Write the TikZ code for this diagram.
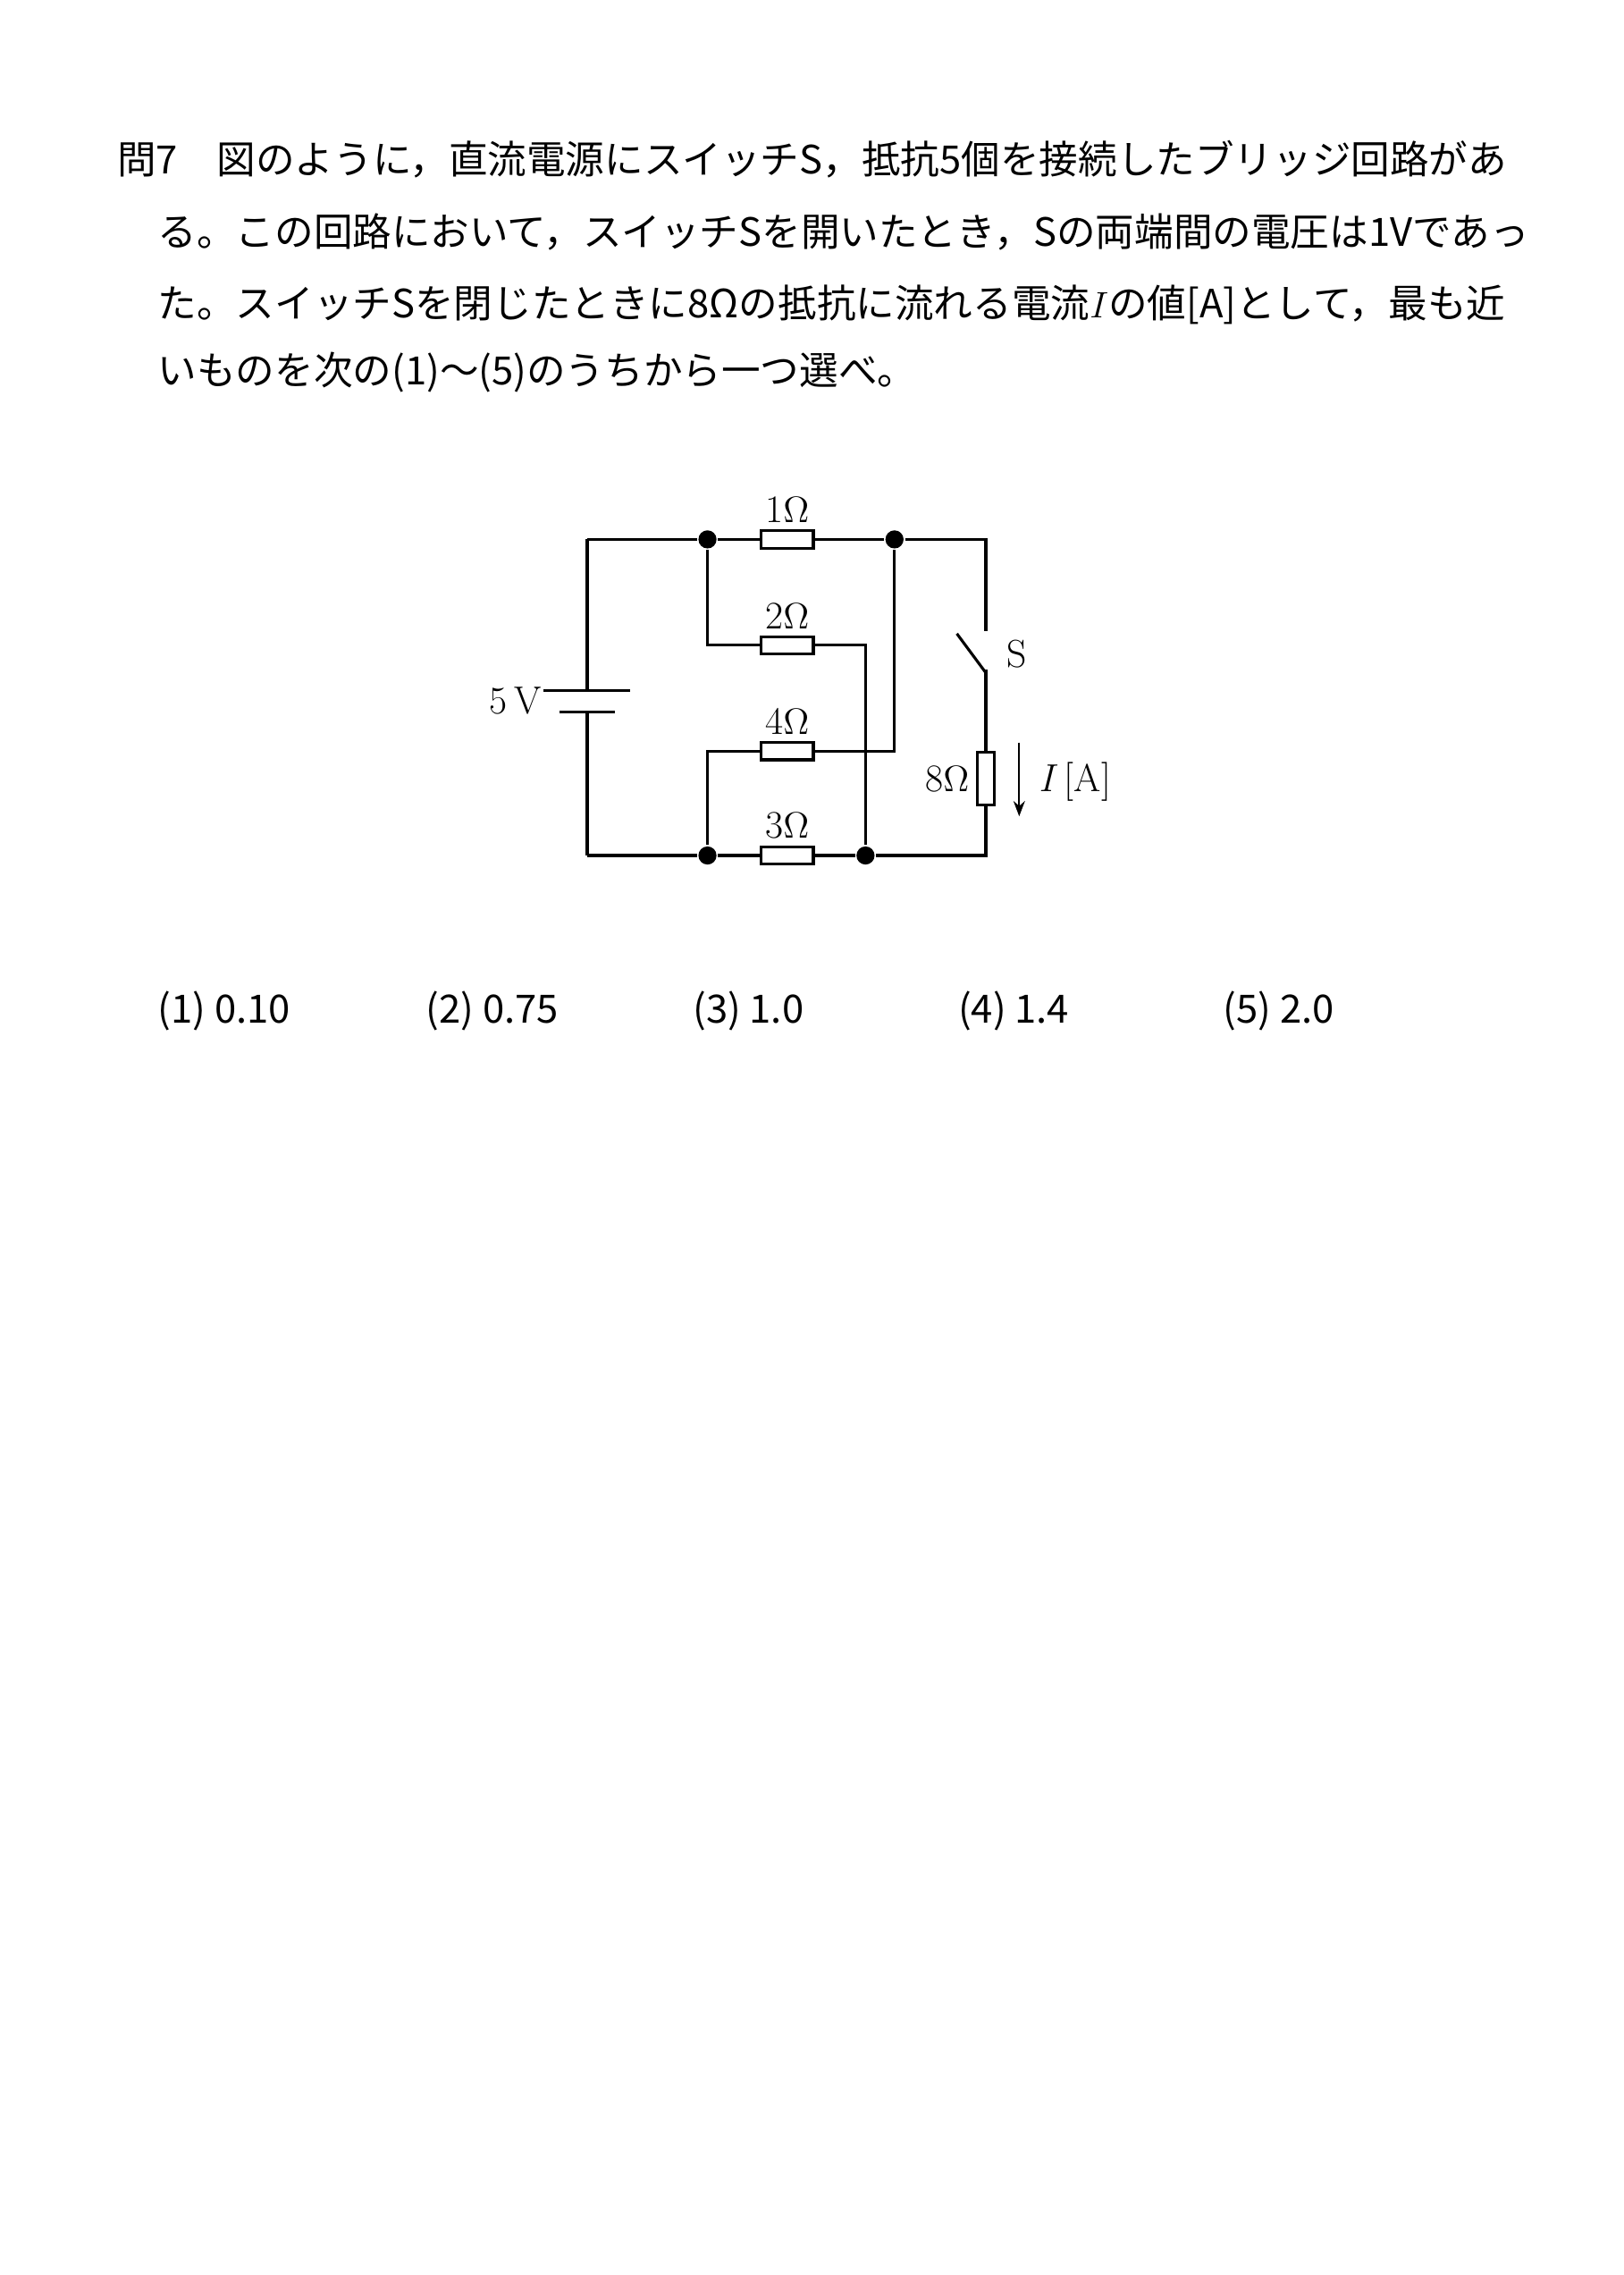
\documentclass[tikz,border=0pt]{standalone}
\usepackage{fontspec}
\newfontfamily\jpfont{Noto Sans CJK JP}
\usetikzlibrary{arrows.meta}
\tikzset{
  res/.style={draw,fill=white,line width=1.1pt,minimum width=0.72cm,minimum height=0.24cm,inner sep=0pt},
  vres/.style={res,minimum width=0.24cm,minimum height=0.72cm},
  dot/.style={circle,fill,inner sep=0pt,minimum size=0.25cm},
  txt/.style={anchor=west,inner sep=0pt,font=\jpfont\fontsize{15.3}{18}\selectfont},
  lbl/.style={inner sep=1pt,font=\fontsize{15.3}{18}\selectfont}
}
\begin{document}
\begin{tikzpicture}[x=0.02cm,y=-0.02cm,line width=1.1pt]
  \useasboundingbox (0,0) rectangle (1120,1569);
  % question text
  \node[txt] (q1) at (80,110) {問7　図のように，直流電源にスイッチS，抵抗5個を接続したブリッジ回路があ};
  \node[txt] (q2) at (108,160) {る。この回路において，スイッチSを開いたとき，Sの両端間の電圧は1Vであっ};
  \node[txt] (q3) at (108,210) {た。スイッチSを閉じたときに8Ωの抵抗に流れる電流$I$の値[A]として，最も近};
  \node[txt] (q4) at (108,257) {いものを次の(1)～(5)のうちから一つ選べ。};
  % junctions
  \node[dot] (a) at (488,372) {};
  \node[dot] (b) at (617,372) {};
  \node[dot] (c) at (488,590) {};
  \node[dot] (d) at (597,590) {};
  \coordinate (tl) at (405,372);
  \coordinate (tr) at (680,372);
  \coordinate (bl) at (405,590);
  \coordinate (br) at (680,590);
  % resistors
  \node[res] (r1) at (543,372) {};
  \node[res] (r2) at (543,445) {};
  \node[res] (r4) at (543,518) {};
  \node[res] (r3) at (543,590) {};
  \node[vres] (r8) at (680,537) {};
  \node[lbl,above=1pt] at (r1.north) {1$\Omega$};
  \node[lbl,above=1pt] at (r2.north) {2$\Omega$};
  \node[lbl,above=1pt] at (r4.north) {4$\Omega$};
  \node[lbl,above=1pt] at (r3.north) {3$\Omega$};
  \node[lbl,left=1pt] at (r8.west) {8$\Omega$};
  % battery
  \coordinate (bp) at (405,476);
  \coordinate (bn) at (405,491);
  \draw (tl) -- (bp) (bn) -- (bl);
  \draw ([xshift=-17]bp) -- ([xshift=17]bp);
  \draw ([xshift=-11]bn) -- ([xshift=11]bn);
  \node[lbl,anchor=east] at (376,483) {5\,V};
  % wiring
  \draw (tl) -- (a) -- (r1) -- (b) -- (tr) -- (680,435);
  \draw (a) |- (r2) (r2) -| (d);
  \draw (b) |- (r4) (r4) -| (c);
  \draw (bl) -- (c) -- (r3) -- (d) -- (br) -- (r8) -- (680,462);
  % switch
  \draw (660,437) -- (680,464);
  \node[lbl,anchor=west] at (692,451) {S};
  % current arrow
  \draw[-{Stealth[length=6pt]},line width=0.8pt] (703,512) -- (703,563);
  \node[lbl,anchor=west] at (714,539) {\textit{I}\,[A]};
  % choices
  \node[txt] (c1) at (108,697) {(1)\ 0.10};
  \node[txt] (c2) at (293,697) {(2)\ 0.75};
  \node[txt] (c3) at (477,697) {(3)\ 1.0};
  \node[txt] (c4) at (660,697) {(4)\ 1.4};
  \node[txt] (c5) at (843,697) {(5)\ 2.0};
\end{tikzpicture}
\end{document}
